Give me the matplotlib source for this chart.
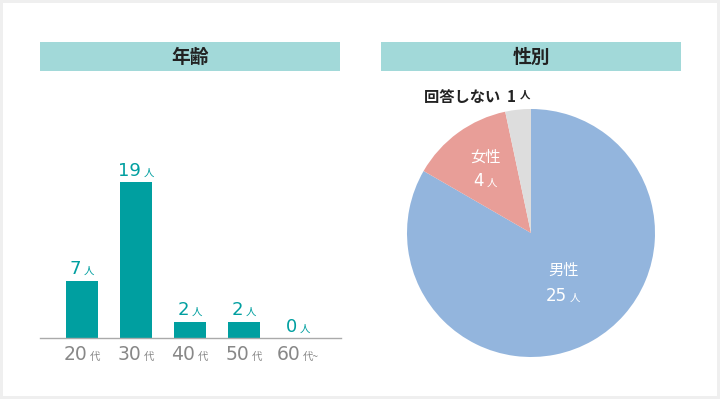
import matplotlib.pyplot as plt
from matplotlib.patches import Rectangle
from matplotlib.offsetbox import TextArea, HPacker, AnnotationBbox

plt.rcParams['font.family'] = ['Noto Sans CJK JP', 'DejaVu Sans']

# --- data ---
age_labels = ['20', '30', '40', '50', '60']
age_suffix = ['代', '代', '代', '代', '代~']
age_counts = [7, 19, 2, 2, 0]

gender_labels = ['男性', '女性', '回答しない']
gender_counts = [25, 4, 1]
gender_colors = ['#93b5dd', '#e89e98', '#dddddd']

W, H = 720, 399
fig = plt.figure(figsize=(W / 100, H / 100), dpi=100, facecolor='#efefef')


def px(x, y, w, h):
    # pixel box (top-left origin) -> figure fraction
    return [x / W, (H - y - h) / H, w / W, h / H]


# white panel
bg = fig.add_axes([0, 0, 1, 1])
bg.set_xlim(0, W)
bg.set_ylim(H, 0)
bg.axis('off')
bg.add_patch(Rectangle((3, 3), 714, 393, facecolor='white', edgecolor='none'))

# header bars
for x0, title in [(40, '年齢'), (381, '性別')]:
    bg.add_patch(Rectangle((x0, 42), 300, 29, facecolor='#a2d9d9', edgecolor='none'))
    bg.text(x0 + 150, 57, title, ha='center', va='center', fontsize=13.5,
            fontweight='bold', color='#222222')

NUM_FONT = ['DejaVu Sans']


def mixed(ax, x, y, big, small, color, bsize, ssize, weight='normal',
          align=(0.5, 0), numfont=NUM_FONT):
    a = TextArea(big, textprops=dict(color=color, fontsize=bsize, fontweight=weight,
                                     family=numfont))
    b = TextArea(small, textprops=dict(color=color, fontsize=ssize, fontweight=weight,
                                       family=['Noto Sans CJK JP', 'DejaVu Sans']))
    pack = HPacker(children=[a, b], align='baseline', pad=0, sep=2)
    ab = AnnotationBbox(pack, (x, y), xycoords='data', box_alignment=align,
                        frameon=False, pad=0, annotation_clip=False)
    ax.add_artist(ab)


# --- bar chart ---
ppu = 8.2  # pixels per person
ax = fig.add_axes(px(40, 148, 301, 190))
ax.set_xlim(-0.778, 4.796)
ax.set_ylim(0, 190 / ppu)
xs = range(len(age_counts))
ax.bar(xs, age_counts, width=0.6, color='#009fa0')
for s in ['top', 'right', 'left']:
    ax.spines[s].set_visible(False)
ax.spines['bottom'].set_color('#aaaaaa')
ax.spines['bottom'].set_linewidth(1)
ax.set_yticks([])
ax.set_xticks([])
ax.patch.set_alpha(0)

for x, c in zip(xs, age_counts):
    mixed(ax, x, c + 0.3, str(c), '人', '#009fa0', 13, 7.5)

for x, lab, suf in zip(xs, age_labels, age_suffix):
    mixed(ax, x, -0.85, lab, suf, '#888888', 13.5, 7.5, align=(0.5, 1))

# --- pie chart ---
pax = fig.add_axes(px(407, 109, 248, 248))
pax.pie(gender_counts, colors=gender_colors, startangle=90, counterclock=False,
        wedgeprops=dict(linewidth=0))
pax.set_xlim(-1, 1)
pax.set_ylim(-1, 1)
pax.set_aspect('equal')

pax.text(0.26, -0.30, gender_labels[0], ha='center', va='center', color='white',
         fontsize=11)
mixed(pax, 0.26, -0.51, str(gender_counts[0]), '人', 'white', 12, 7.5,
      align=(0.5, 0.5))
pax.text(-0.37, 0.61, gender_labels[1], ha='center', va='center', color='white',
         fontsize=11)
mixed(pax, -0.37, 0.42, str(gender_counts[1]), '人', 'white', 12, 7.5,
      align=(0.5, 0.5))

# 回答しない label above pie
mixed(bg, 470, 97, gender_labels[2] + ' ', str(gender_counts[2]), '#222222',
      11, 11, weight='bold', align=(0.5, 0.5),
      numfont=['Noto Sans CJK JP'])
mixed(bg, 524, 97, '', '人', '#222222', 7.5, 7.5, weight='bold', align=(0.5, 0.3))

fig.savefig('out.png', dpi=100, facecolor=fig.get_facecolor())
